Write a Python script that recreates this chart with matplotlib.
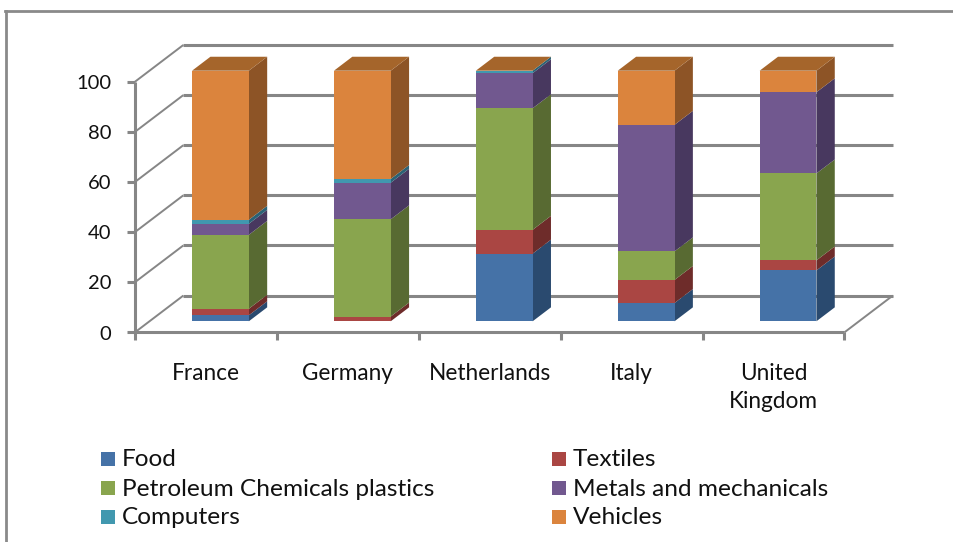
import matplotlib
matplotlib.use("Agg")
import matplotlib.pyplot as plt
from matplotlib.lines import Line2D
from matplotlib.patches import Rectangle

countries = ["France", "Germany", "Netherlands", "Italy", "United\nKingdom"]
series_names = ["Food", "Textiles", "Petroleum Chemicals plastics",
                "Metals and mechanicals", "Computers", "Vehicles"]
food = [2.4, 0.0, 27.0, 7.3, 20.3]
textiles = [2.6, 1.9, 9.5, 9.2, 4.0]
petroleum = [29.5, 38.8, 48.5, 11.4, 34.7]
metals = [4.4, 14.6, 14.0, 50.5, 32.4]
computers = [1.6, 1.5, 1.0, 0.0, 0.0]
vehicles = [59.5, 43.2, 0.0, 21.6, 8.6]
y_ticks = [0, 20, 40, 60, 80, 100]

series = [food, textiles, petroleum, metals, computers, vehicles]
front_colors = ["#4572A7", "#AA4643", "#89A54E", "#71588F", "#4198AF", "#DB843D"]
side_colors = ["#2A4A6F", "#6E2C2A", "#586A32", "#48385F", "#2A6275", "#8D5426"]
top_color = "#A5652B"
grid_color = "#868686"
W, H = 954, 542

plt.rcParams["font.family"] = "Lato"

fig = plt.figure(figsize=(W / 100, H / 100), dpi=100)
fig.patch.set_facecolor("white")

# plot area: the front plane of the 3D box, in pixels
left, right, bottom, top = 135, 844.5, 332.3, 81.7
ax = fig.add_axes([left / W, 1 - bottom / H, (right - left) / W, (bottom - top) / H])
ax.set_xlim(0, 5)
ax.set_ylim(0, 100)
ax.axis("off")

# oblique projection: full depth of the box in data units
depth_x = 48.3 / 141.9
depth_y = 36.7 / 2.506


def project(x, v, d):
    return x + d * depth_x, v + d * depth_y


def line(xs, ys, lw=2.2):
    ax.plot(xs, ys, color=grid_color, lw=lw, clip_on=False, solid_capstyle="butt", zorder=1)


# back wall and floor
for v in y_ticks:
    x0, y0 = project(0, v, 1)
    x1, y1 = project(5, v, 1)
    line([x0, x1], [y0, y1])
    line([0, x0], [v, y0], lw=1.4)
    line([-0.056, 0], [v, v])
line([0, 0], [0, 100])
line([0, 5], [0, 0])
x1, y1 = project(5, 0, 1)
line([5, x1], [0, y1], lw=1.4)
for i in range(6):
    line([i, i], [0, -3.2])

# bars, front to back depth range of each bar
bar_w = 0.4
d0, d1 = 0.3, 0.68
for i in range(len(countries)):
    base = 0
    xl = i + 0.5 - bar_w / 2
    xr = xl + bar_w
    for values, fc, sc in zip(series, front_colors, side_colors):
        v = values[i]
        if v > 0:
            fx, fy = project(xl, base, d0)
            ax.bar(fx, v, width=bar_w, bottom=fy, align="edge", color=fc, zorder=3, lw=0, clip_on=False)
            a = project(xr, base, d0)
            b = project(xr, base, d1)
            c = project(xr, base + v, d1)
            d = project(xr, base + v, d0)
            ax.fill([a[0], b[0], c[0], d[0]], [a[1], b[1], c[1], d[1]], color=sc, lw=0, zorder=2, clip_on=False)
        base += v
    a = project(xl, base, d0)
    b = project(xr, base, d0)
    c = project(xr, base, d1)
    d = project(xl, base, d1)
    ax.fill([a[0], b[0], c[0], d[0]], [a[1], b[1], c[1], d[1]], color=top_color, lw=0, zorder=2, clip_on=False)


def px_text(x, y, s, **kw):
    fig.text(x / W, 1 - y / H, s, color="#111111", va="center", **kw)


for v in y_ticks:
    ax.text(-0.165, v - 0.7, str(v), ha="right", va="center", fontsize=14.5, color="#111111", clip_on=False)

for i, name in enumerate(countries):
    ax.text(i + 0.5, -12.4, name, ha="center", va="top", fontsize=16.3, color="#111111",
            linespacing=1.38, clip_on=False)

# legend drawn by hand to keep the two-column pixel layout
legend_x = [101, 552]
legend_y = [459, 488, 517]
for k, (name, fc) in enumerate(zip(series_names, front_colors)):
    lx = legend_x[k % 2]
    ly = legend_y[k // 2]
    fig.add_artist(Rectangle((lx / W, 1 - (ly + 7) / H), 14 / W, 14 / H, color=fc, lw=0,
                             transform=fig.transFigure))
    px_text(lx + 21, ly + 1, name, fontsize=17.6)

# outer frame of the picture: only top and left edges show
fig.add_artist(Line2D([6.5 / W, 6.5 / W], [0, 1 - 11 / H], color="#8a8a8a", lw=2, transform=fig.transFigure))
fig.add_artist(Line2D([5.5 / W, 1], [1 - 11 / H, 1 - 11 / H], color="#8a8a8a", lw=2, transform=fig.transFigure))

fig.savefig("out.png", dpi=100)
